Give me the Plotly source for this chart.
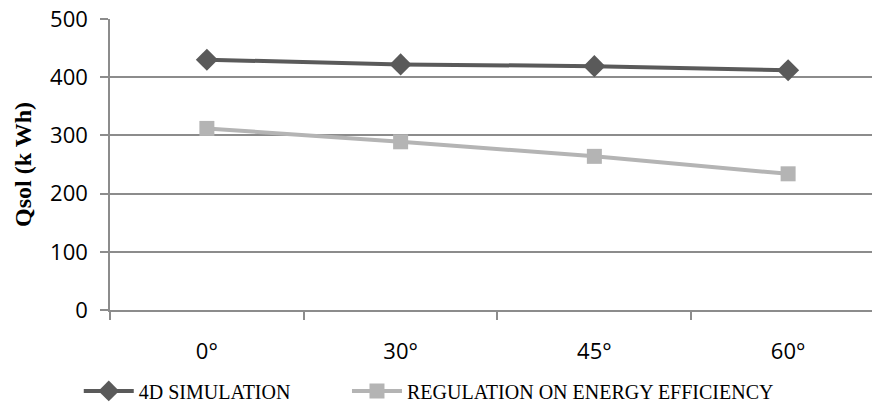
import plotly.graph_objects as go

categories = ["0°", "30°", "45°", "60°"]
sim_4d = [430, 422, 419, 412]
regulation = [312, 289, 264, 234]
y_ticks = [0, 100, 200, 300, 400, 500]

fig = go.Figure()
fig.add_trace(go.Scatter(
    x=categories, y=sim_4d, name="4D SIMULATION", mode="lines+markers",
    line=dict(color="#5a5a5a", width=4),
    marker=dict(symbol="diamond", size=17, color="#5a5a5a"),
    legend="legend",
))
fig.add_trace(go.Scatter(
    x=categories, y=regulation, name="REGULATION ON ENERGY EFFICIENCY", mode="lines+markers",
    line=dict(color="#b4b4b4", width=4),
    marker=dict(symbol="square", size=15, color="#b4b4b4"),
    legend="legend2",
))

legend_font = dict(family="Liberation Serif", size=20, color="black")
fig.update_layout(
    width=872, height=412,
    margin=dict(l=110, r=0, t=19, b=102),
    paper_bgcolor="white", plot_bgcolor="white",
    font=dict(family="Open Sans", size=22, color="black"),
    showlegend=True,
    legend=dict(
        orientation="h", x=-0.041, xanchor="left", y=-0.278, yanchor="middle",
        font=legend_font, itemwidth=50, bgcolor="rgba(0,0,0,0)",
    ),
    legend2=dict(
        orientation="h", x=0.311, xanchor="left", y=-0.278, yanchor="middle",
        font=legend_font, itemwidth=50, bgcolor="rgba(0,0,0,0)",
    ),
)
fig.update_xaxes(
    type="category", range=[-0.5, 3.433],
    showline=True, linecolor="#8c8c8c", linewidth=1.5,
    ticks="outside", tickson="boundaries", ticklen=8, tickcolor="#8c8c8c", tickwidth=1.5,
    showgrid=False, zeroline=False, ticklabelstandoff=21,
)
fig.update_yaxes(
    range=[0, 500], tickvals=y_ticks,
    showline=True, linecolor="#8c8c8c", linewidth=1.5,
    ticks="outside", ticklen=8, tickcolor="#8c8c8c", tickwidth=1.5,
    showgrid=True, gridcolor="#8c8c8c", gridwidth=1.5, zeroline=False,
    ticklabelstandoff=8,
    title=dict(text="<b>Qsol (k Wh)</b>", font=dict(family="Liberation Serif", size=24), standoff=12),
)

fig.write_html("out.html")
